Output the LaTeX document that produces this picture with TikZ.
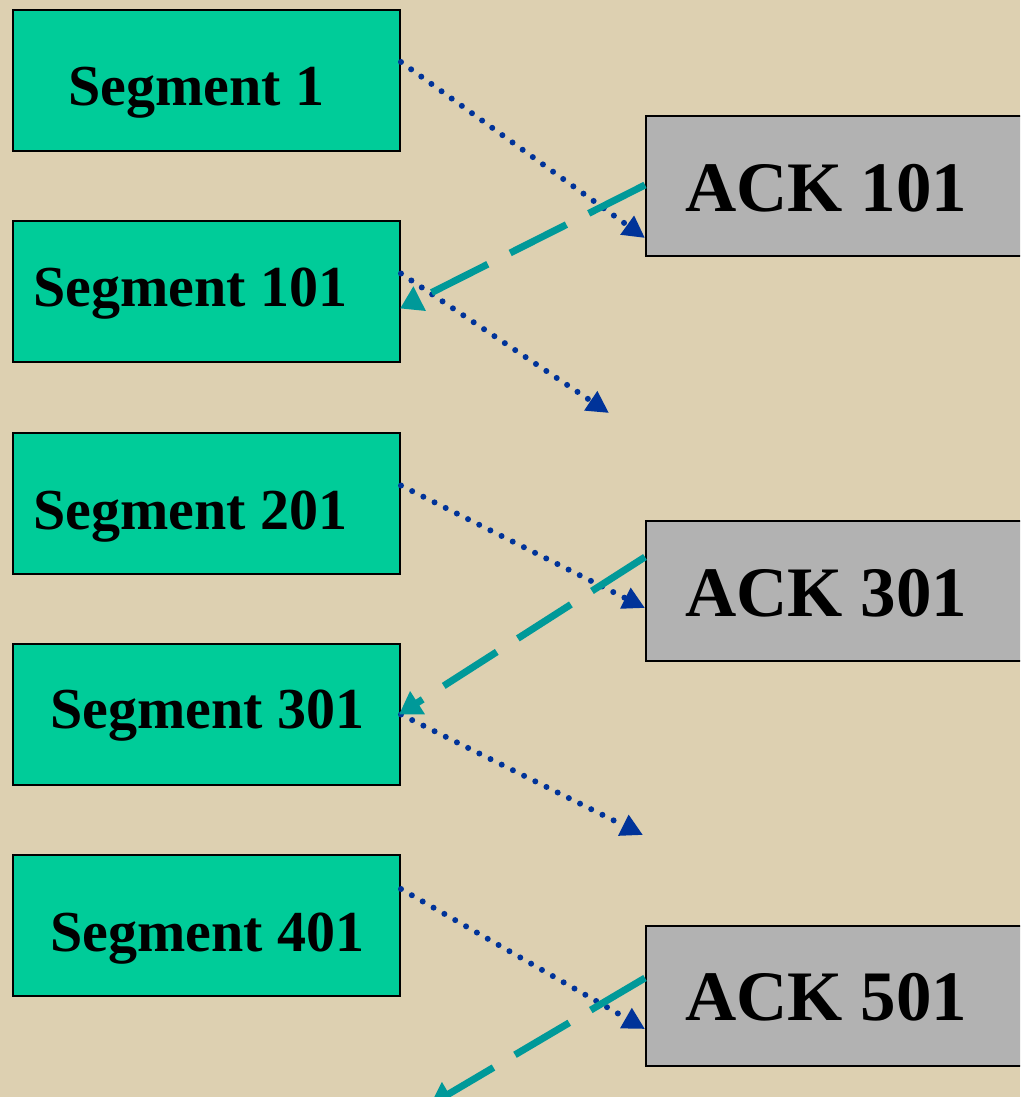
\documentclass[tikz,border=0pt]{standalone}
\usepackage{fontspec}
\setmainfont{Liberation Serif}
\usetikzlibrary{arrows.meta}
\definecolor{bgbeige}{HTML}{DDD0B1}
\definecolor{seggreen}{HTML}{00CC99}
\definecolor{ackgray}{HTML}{B2B2B2}
\definecolor{dotblue}{HTML}{003399}
\definecolor{dashteal}{HTML}{009999}
\tikzset{
  segbox/.style={draw=black, line width=2pt, fill=seggreen, minimum width=387pt, minimum height=141pt, anchor=north west, inner sep=0pt},
  ackbox/.style={draw=black, line width=2pt, fill=ackgray, minimum width=400pt, minimum height=140pt, anchor=north west, inner sep=0pt},
  segtext/.style={anchor=base west, inner sep=0pt, font=\fontsize{58}{60}\selectfont\bfseries},
  acktext/.style={anchor=base west, inner sep=0pt, font=\fontsize{71}{73}\selectfont\bfseries},
  sendline/.style={draw=dotblue, line width=6pt, line cap=round, dash pattern=on 0pt off 12.5pt, -{Triangle[length=22pt,width=22pt]}},
  ackline/.style={draw=dashteal, line width=7pt, dash pattern=on 63pt off 25pt, -{Triangle[length=22pt,width=26pt]}}
}
\begin{document}
\begin{tikzpicture}[x=1pt, y=-1pt]
\useasboundingbox (0,0) rectangle (1020,1097);
\clip (0,0) rectangle (1020,1097);
\fill[bgbeige] (0,0) rectangle (1020,1097);
% boxes
\node[segbox] (s1) at (12,9) {};
\node[segbox] (s101) at (12,220) {};
\node[segbox] (s201) at (12,432) {};
\node[segbox] (s301) at (12,643) {};
\node[segbox] (s401) at (12,854) {};
\node[ackbox] (a101) at (645,115) {};
\node[ackbox] (a301) at (645,520) {};
\node[ackbox] (a501) at (645,925) {};
% labels
\node[segtext] (l1) at (68,106) {Segment 1};
\node[segtext] (l101) at (33,306) {Segment 101};
\node[segtext] (l201) at (33,529) {Segment 201};
\node[segtext] (l301) at (50,728) {Segment 301};
\node[segtext] (l401) at (50,951) {Segment 401};
\node[acktext] (m101) at (685,211) {ACK 101};
\node[acktext] (m301) at (685,616) {ACK 301};
\node[acktext] (m501) at (685,1020) {ACK 501};
% free ends
\coordinate (f2) at (609,413);
\coordinate (f4) at (643,835);
\coordinate (f6) at (430,1105);
% sends (dotted)
\draw[sendline] ([yshift=18.5pt]s1.east) -- ([yshift=-52pt]a101.west);
\draw[sendline] ([yshift=18pt]s101.east) -- (f2);
\draw[sendline] ([yshift=18pt]s201.east) -- ([yshift=-17pt]a301.west);
\draw[sendline] (s301.east) -- (f4);
\draw[sendline] ([yshift=36.5pt]s401.east) -- ([yshift=-33pt]a501.west);
% acks (dashed)
\draw[ackline] ([yshift=1pt]a101.west) -- ([yshift=-17pt,xshift=-1pt]s101.east);
\draw[ackline] ([yshift=34pt]a301.west) -- ([xshift=-2pt]s301.east);
\draw[ackline] ([yshift=18pt]a501.west) -- (f6);
\end{tikzpicture}
\end{document}
